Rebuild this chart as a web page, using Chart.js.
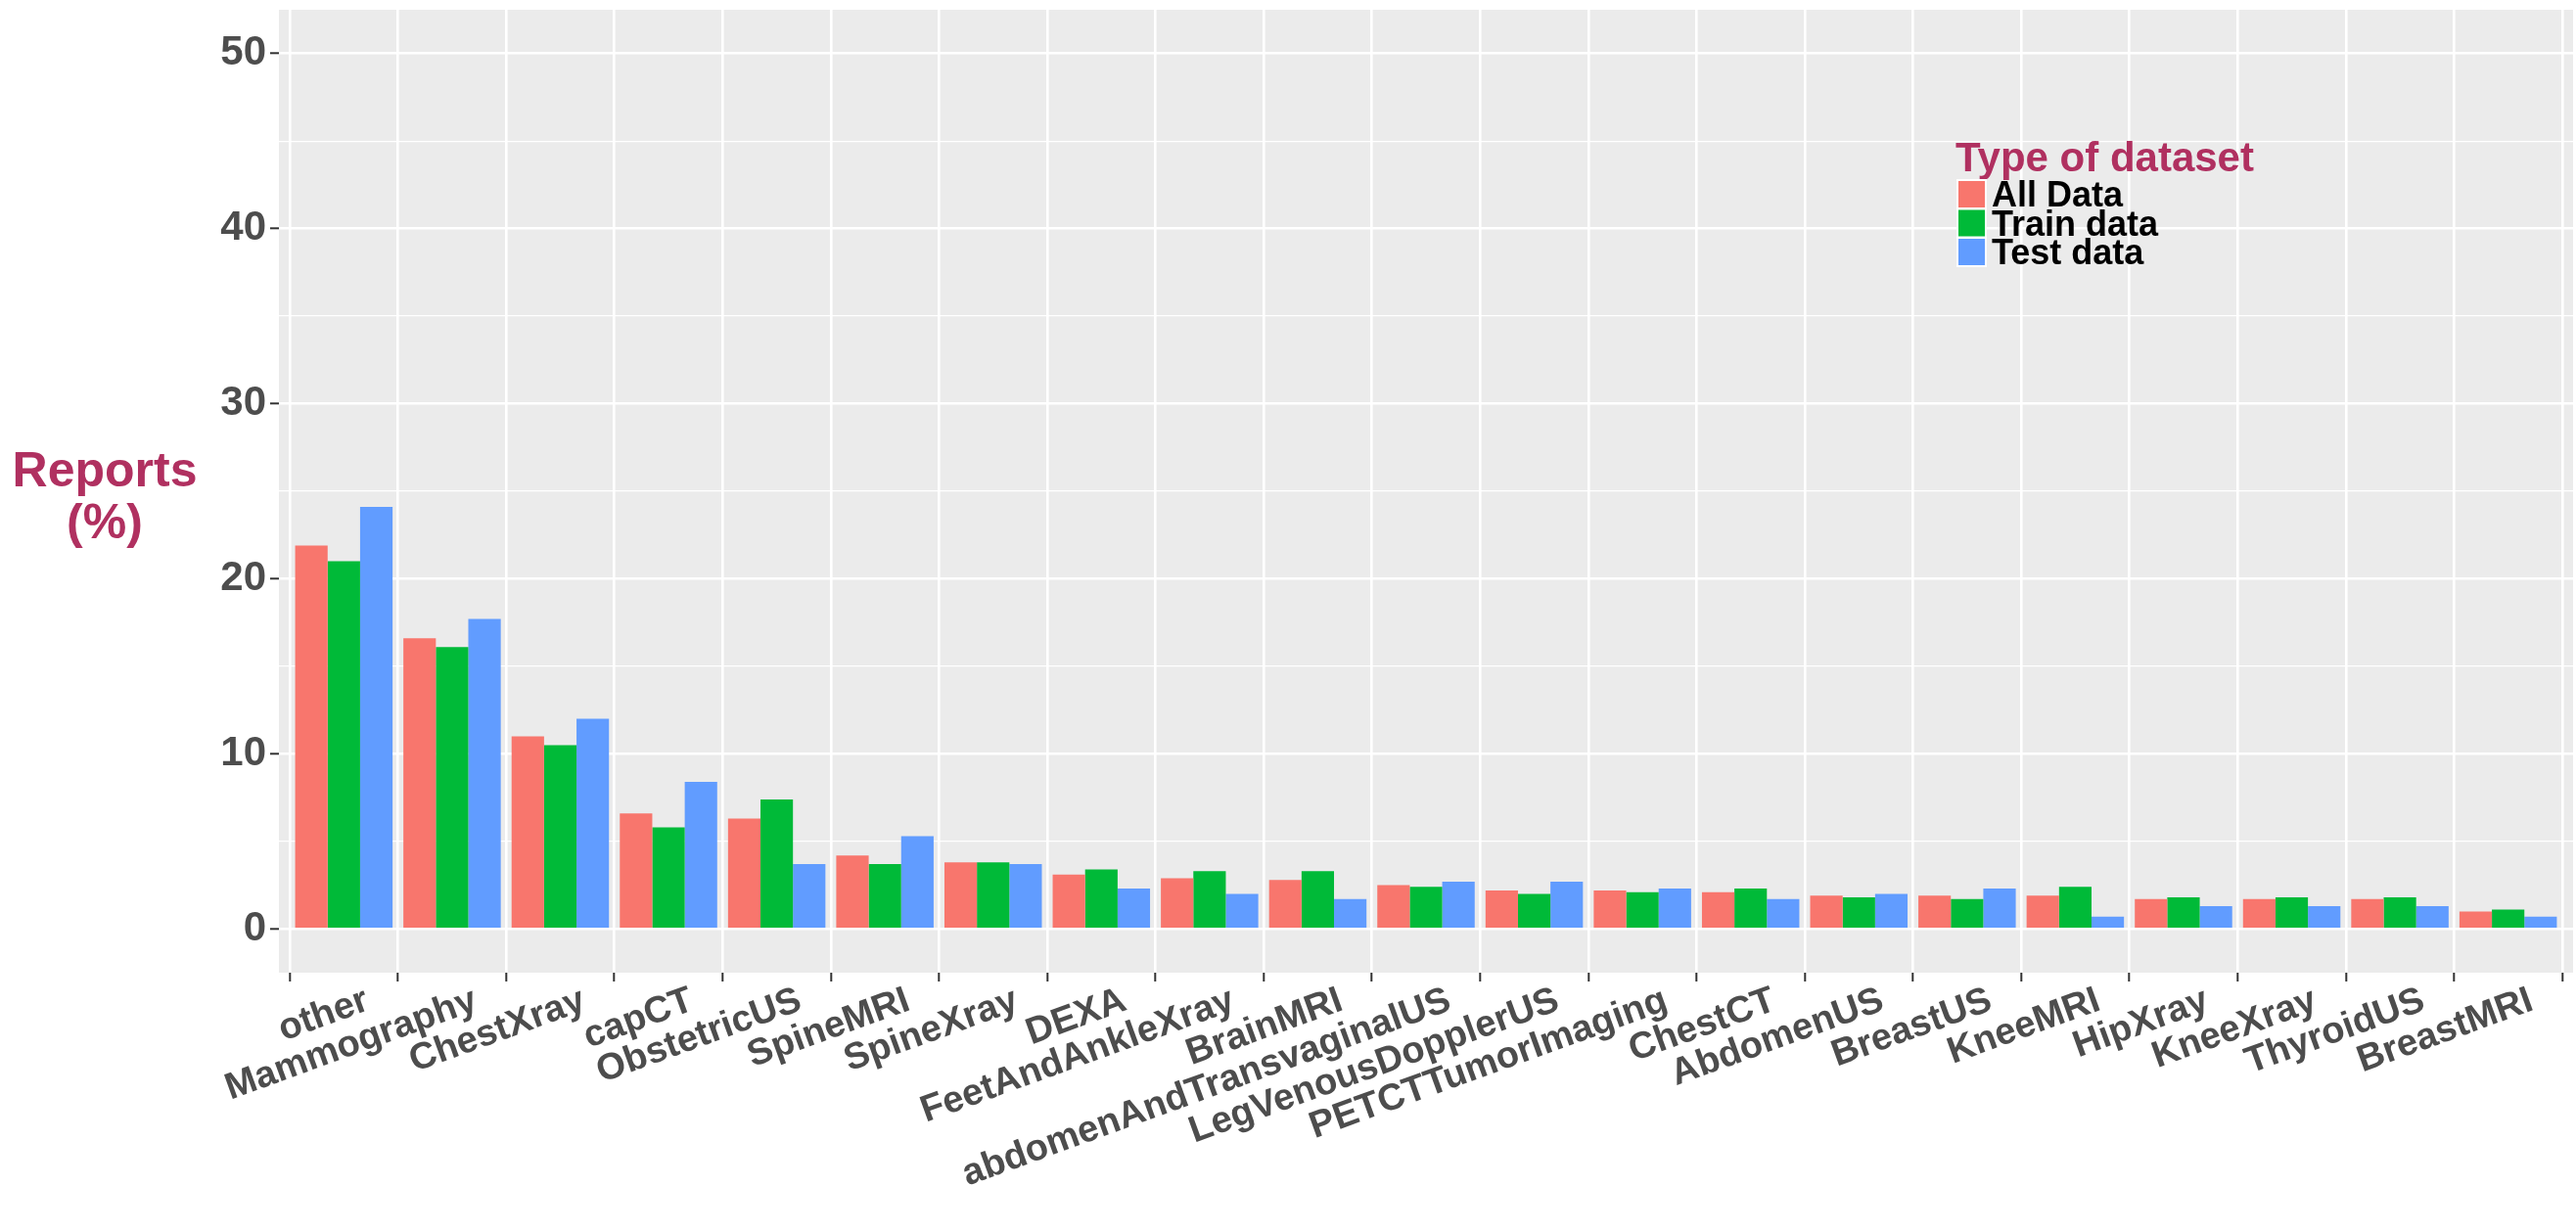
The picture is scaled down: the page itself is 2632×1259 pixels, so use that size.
<!DOCTYPE html>
<html>
<head>
<meta charset="utf-8">
<script src="https://cdn.jsdelivr.net/npm/chart.js@4.4.1/dist/chart.umd.min.js"></script>
<style>
  html, body { margin: 0; padding: 0; background: #fff; }
  #wrap { width: 2632px; height: 1259px; }
</style>
</head>
<body>
<div id="wrap"><canvas id="chart" width="2632" height="1259"></canvas></div>
<script>
// Categories and series (percent of reports)
const categories = ['other', 'Mammography', 'ChestXray', 'capCT', 'ObstetricUS', 'SpineMRI', 'SpineXray',
  'DEXA', 'FeetAndAnkleXray', 'BrainMRI', 'abdomenAndTransvaginalUS', 'LegVenousDopplerUS',
  'PETCTTumorImaging', 'ChestCT', 'AbdomenUS', 'BreastUS', 'KneeMRI', 'HipXray', 'KneeXray',
  'ThyroidUS', 'BreastMRI'];
const allData   = [21.9, 16.6, 11.0, 6.6, 6.3, 4.2, 3.8, 3.1, 2.9, 2.8, 2.5, 2.2, 2.2, 2.1, 1.9, 1.9, 1.9, 1.7, 1.7, 1.7, 1.0];
const trainData = [21.0, 16.1, 10.5, 5.8, 7.4, 3.7, 3.8, 3.4, 3.3, 3.3, 2.4, 2.0, 2.1, 2.3, 1.8, 1.7, 2.4, 1.8, 1.8, 1.8, 1.1];
const testData  = [24.1, 17.7, 12.0, 8.4, 3.7, 5.3, 3.7, 2.3, 2.0, 1.7, 2.7, 2.7, 2.3, 1.7, 2.0, 2.3, 0.7, 1.3, 1.3, 1.3, 0.7];
const seriesNames = ['All Data', 'Train data', 'Test data'];
const seriesColors = ['#F8766D', '#00BA38', '#619CFF'];
const yTicks = [0, 5, 10, 15, 20, 25, 30, 35, 40, 45, 50];
const yTitle = ['Reports', '(%)'];
const legendTitle = 'Type of dataset';

const FONT = "'Liberation Sans', Arial, Helvetica, sans-serif";
const MAROON = '#B03060';

// ggplot-like panel background, horizontal y title and inset legend
const ggExtras = {
  id: 'ggExtras',
  beforeDraw(chart) {
    const { ctx, chartArea: a } = chart;
    ctx.save();
    ctx.fillStyle = '#EBEBEB';
    ctx.fillRect(a.left, a.top, a.right - a.left, a.bottom - a.top);
    ctx.restore();
  },
  afterDraw(chart) {
    const ctx = chart.ctx;
    ctx.save();
    // y axis title
    ctx.fillStyle = MAROON;
    ctx.font = `bold 50px ${FONT}`;
    ctx.textAlign = 'center';
    ctx.textBaseline = 'alphabetic';
    ctx.fillText(yTitle[0], 107, 497);
    ctx.fillText(yTitle[1], 107, 550);

    // legend
    ctx.textAlign = 'left';
    ctx.font = `bold 42px ${FONT}`;
    ctx.fillText(legendTitle, 1998, 175);
    ctx.font = `bold 36px ${FONT}`;
    chart.data.datasets.forEach((ds, k) => {
      const top = 184 + k * 29.5;
      ctx.fillStyle = '#fff';
      ctx.fillRect(1999, top - 1, 31, 31);
      ctx.fillStyle = ds.backgroundColor;
      ctx.fillRect(2001, top + 1, 27, 27);
      ctx.fillStyle = '#000';
      ctx.fillText(ds.label, 2035, top + 27);
    });
    ctx.restore();
  }
};

const datasets = [allData, trainData, testData].map((vals, k) => ({
  label: seriesNames[k],
  data: vals.map((v, i) => ({ x: i, y: v })),
  backgroundColor: seriesColors[k],
  borderWidth: 0,
  categoryPercentage: 0.9,
  barPercentage: 1.0
}));

new Chart(document.getElementById('chart').getContext('2d'), {
  type: 'bar',
  data: { datasets },
  plugins: [ggExtras],
  options: {
    responsive: false,
    animation: false,
    devicePixelRatio: 1,
    layout: { padding: { top: 10, right: 3, left: 0, bottom: 0 } },
    plugins: {
      legend: { display: false },
      tooltip: { enabled: false }
    },
    scales: {
      x: {
        type: 'linear',
        min: -0.6,
        max: 20.6,
        offset: false,
        afterBuildTicks: s => { s.ticks = categories.map((c, i) => ({ value: i })); },
        afterFit: s => { s.height = 265; s.paddingLeft = 0; s.paddingRight = 0; },
        border: { display: false },
        grid: {
          color: '#ffffff',
          lineWidth: 2.6,
          drawTicks: true,
          tickLength: 9,
          tickColor: '#333333',
          tickWidth: 2
        },
        ticks: {
          autoSkip: false,
          minRotation: 20,
          maxRotation: 20,
          padding: -3,
          labelOffset: 24,
          color: '#4D4D4D',
          font: { family: FONT, size: 38, weight: 'bold' },
          callback: v => categories[v]
        }
      },
      y: {
        min: -2.5,
        max: 52.5,
        afterBuildTicks: s => { s.ticks = yTicks.map(v => ({ value: v })); },
        afterFit: s => { s.width = 285; s.paddingTop = 0; s.paddingBottom = 0; },
        border: { display: false },
        grid: {
          color: '#ffffff',
          lineWidth: ctx => (ctx.tick && ctx.tick.value % 10 === 0 ? 2.6 : 1.2),
          drawTicks: true,
          tickLength: 9,
          tickColor: ctx => (ctx.tick && ctx.tick.value % 10 === 0 ? '#333333' : 'rgba(0,0,0,0)'),
          tickWidth: 2
        },
        ticks: {
          padding: 4,
          color: '#4D4D4D',
          font: { family: FONT, size: 42, weight: 'bold' },
          callback: v => (v % 10 === 0 ? String(v) : '')
        }
      }
    }
  }
});
</script>
</body>
</html>
